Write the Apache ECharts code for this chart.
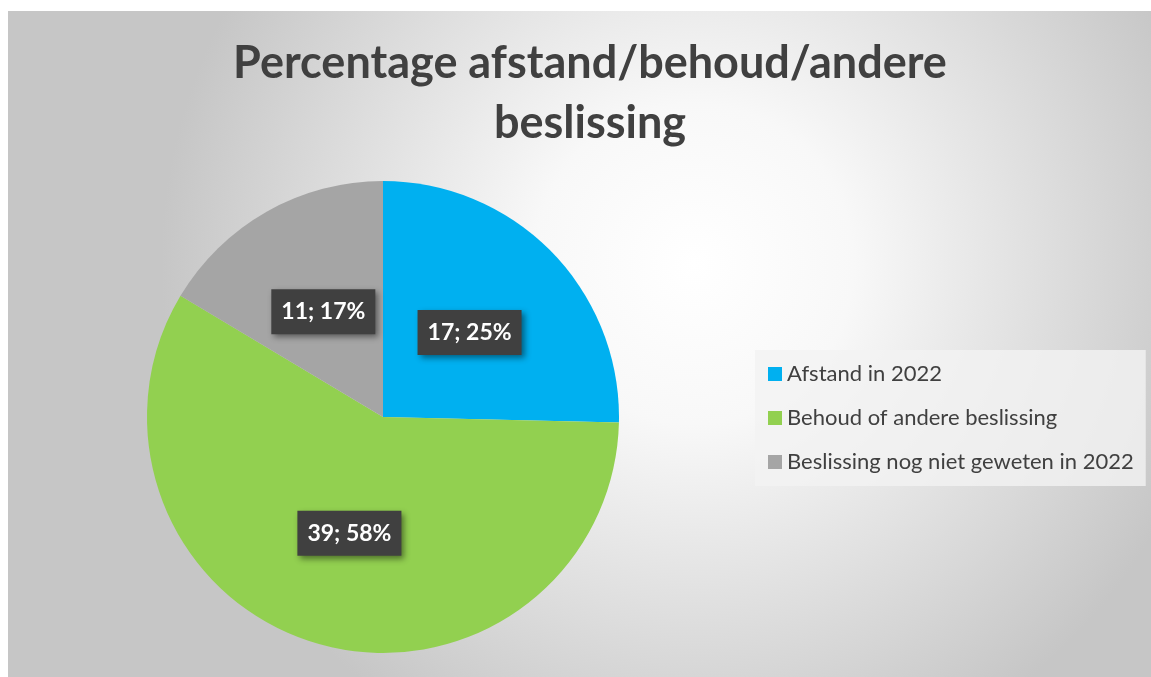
<!DOCTYPE html>
<html>
<head>
<meta charset="utf-8">
<script src="https://cdn.jsdelivr.net/npm/echarts@6/dist/echarts.min.js"></script>
<style>
  html, body { margin: 0; padding: 0; background: #ffffff; }
  #container { position: absolute; left: 8px; top: 11px; width: 1143px; height: 666px; }
</style>
</head>
<body>
<div id="container"></div>
<script>
var categories = ['Afstand in 2022', 'Behoud of andere beslissing', 'Beslissing nog niet geweten in 2022'];
var counts = [17, 39, 11];
var colors = ['#00b0f0', '#92d050', '#a5a5a5'];

var dom = document.getElementById("container");
var myChart = echarts.init(dom);

var pieData = categories.map(function (name, i) {
    return { name: name, value: counts[i], itemStyle: { color: colors[i] } };
});

var option = {
    backgroundColor: new echarts.graphic.RadialGradient(0.6, 0.38, 0.8, [
        { offset: 0, color: '#ffffff' },
        { offset: 0.3, color: '#f8f8f8' },
        { offset: 1, color: '#c6c6c6' }
    ]),
    title: {
        text: 'Percentage afstand/behoud/andere\nbeslissing',
        left: 577,
        top: 17,
        textAlign: 'center',
        textStyle: {
            fontFamily: 'Lato',
            fontWeight: 'bold',
            fontSize: 45,
            lineHeight: 60,
            color: '#404040'
        }
    },
    legend: {
        orient: 'vertical',
        left: 747,
        top: 339,
        backgroundColor: 'rgba(242,242,242,0.8)',
        padding: [13, 12, 13, 13],
        itemWidth: 14,
        itemHeight: 14,
        itemGap: 22,
        icon: 'rect',
        selectedMode: false,
        textStyle: {
            fontFamily: 'Lato',
            fontSize: 22,
            lineHeight: 22,
            color: '#404040'
        },
        data: categories
    },
    series: [
        {
            type: 'pie',
            center: [375, 406],
            radius: 236,
            startAngle: 90,
            clockwise: true,
            percentPrecision: 0,
            animation: false,
            label: {
                show: true,
                position: 'inside',
                formatter: '{c}; {d}%',
                fontFamily: 'Lato',
                fontWeight: 'bold',
                fontSize: 23,
                color: '#ffffff',
                backgroundColor: '#404040',
                padding: [14, 10, 8, 10],
                shadowColor: 'rgba(0,0,0,0.45)',
                shadowBlur: 6,
                shadowOffsetX: 3,
                shadowOffsetY: 3
            },
            labelLine: { show: false },
            emphasis: { disabled: true },
            data: pieData
        }
    ]
};

if (option && typeof option === "object") {
    myChart.setOption(option, true);
}
</script>
</body>
</html>
